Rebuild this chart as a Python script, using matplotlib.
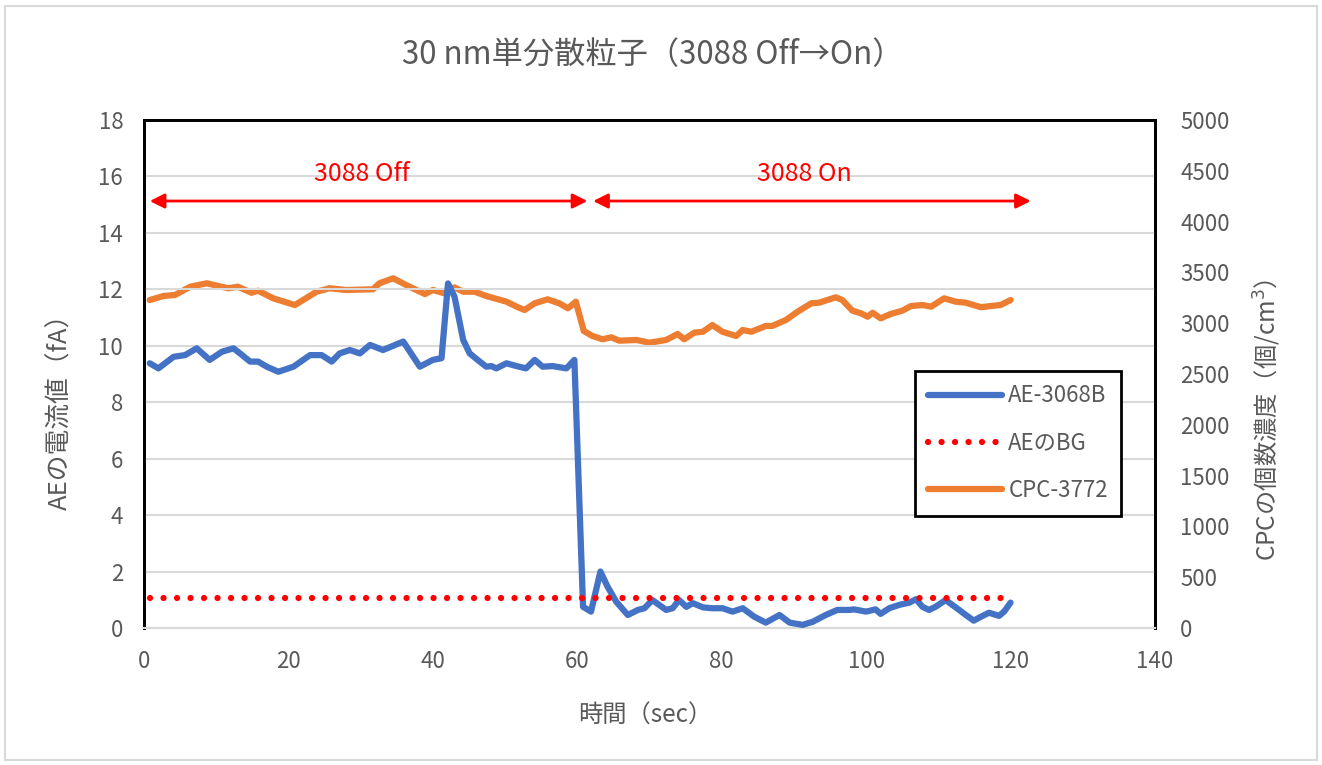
import matplotlib
matplotlib.use("Agg")
import matplotlib.pyplot as plt
from matplotlib.patches import Rectangle

plt.rcParams["font.family"] = ["Noto Sans CJK JP", "DejaVu Sans"]

BLUE = "#4472C4"
ORANGE = "#ED7D31"
RED = "#FF0000"
TEXT = "#595959"
GRID = "#D9D9D9"

# AE-3068B current (fA)
ae_t = [0.8, 2.0, 4.1, 5.7, 7.3, 9.1, 10.8, 12.4, 13.3, 14.7, 15.8, 17.0, 18.6,
        20.7, 23.0, 24.6, 26.0, 27.1, 28.5, 29.9, 31.3, 33.1, 35.9, 38.2, 40.0,
        41.2, 42.1, 43.0, 44.2, 45.1, 46.2, 47.4, 48.1, 48.8, 50.2, 51.6, 52.9,
        54.1, 55.2, 56.6, 58.5, 59.6, 60.8, 61.9, 63.2, 64.2, 65.4, 67.0, 68.4,
        69.3, 70.4, 72.3, 73.2, 74.1, 75.1, 76.0, 77.4, 78.7, 80.1, 81.5, 82.9,
        84.5, 86.1, 88.0, 89.4, 91.2, 92.6, 94.4, 96.0, 97.7, 98.3, 100.0, 101.3,
        102.0, 103.2, 104.6, 106.0, 106.9, 107.8, 108.7, 109.6, 111.0, 112.4,
        113.8, 114.9, 115.9, 117.0, 118.4, 119.1, 120.0]
ae_fa = [9.38, 9.20, 9.61, 9.67, 9.91, 9.50, 9.79, 9.91, 9.73, 9.44, 9.44, 9.26,
         9.08, 9.26, 9.67, 9.67, 9.44, 9.73, 9.85, 9.73, 10.03, 9.85, 10.15, 9.26,
         9.50, 9.56, 12.21, 11.74, 10.21, 9.73, 9.50, 9.26, 9.28, 9.20, 9.38, 9.28,
         9.20, 9.50, 9.26, 9.28, 9.20, 9.50, 0.75, 0.58, 2.00, 1.46, 0.93, 0.46,
         0.64, 0.70, 0.99, 0.64, 0.70, 0.99, 0.75, 0.88, 0.73, 0.70, 0.70, 0.58,
         0.70, 0.40, 0.19, 0.46, 0.19, 0.11, 0.22, 0.46, 0.64, 0.64, 0.66, 0.58,
         0.66, 0.50, 0.70, 0.82, 0.90, 1.02, 0.75, 0.64, 0.75, 0.99, 0.73, 0.46,
         0.26, 0.40, 0.54, 0.43, 0.58, 0.90]

# AE background level (fA)
bg_t = [0.8, 120.0]
bg_fa = [1.05, 1.05]

# CPC-3772 number concentration (1/cm3)
cpc_t = [0.8, 2.7, 4.3, 6.4, 8.7, 10.3, 11.7, 13.0, 14.9, 15.8, 17.9, 20.9, 23.9,
         25.7, 28.0, 31.7, 32.6, 34.5, 36.3, 38.9, 40.0, 41.6, 43.0, 44.2, 45.8,
         47.4, 50.2, 51.6, 52.7, 54.1, 55.9, 57.5, 58.7, 59.8, 60.9, 62.1, 63.5,
         64.7, 65.8, 68.2, 70.0, 72.3, 73.9, 74.8, 76.2, 77.4, 78.7, 80.1, 82.0,
         82.9, 84.1, 86.1, 87.0, 88.9, 90.5, 92.4, 93.5, 95.8, 96.7, 98.1, 99.3,
         100.2, 100.9, 102.0, 103.4, 105.0, 106.2, 107.8, 109.0, 110.8, 112.4,
         113.8, 115.9, 117.2, 118.6, 120.0]
cpc_n = [3228, 3268, 3278, 3359, 3393, 3366, 3344, 3359, 3300, 3320, 3245, 3179,
         3310, 3344, 3327, 3334, 3393, 3442, 3376, 3287, 3327, 3294, 3353, 3310,
         3310, 3268, 3212, 3163, 3130, 3196, 3235, 3196, 3147, 3212, 2923, 2874,
         2842, 2861, 2828, 2835, 2808, 2835, 2894, 2842, 2907, 2916, 2982, 2916,
         2874, 2933, 2916, 2973, 2973, 3032, 3113, 3196, 3202, 3255, 3228, 3123,
         3097, 3064, 3103, 3048, 3091, 3123, 3169, 3179, 3163, 3245, 3212, 3202,
         3157, 3169, 3179, 3228]

fig = plt.figure(figsize=(13.22, 7.65), dpi=100)
ax = fig.add_axes([0.1089, 0.1791, 0.7648, 0.664])
ax2 = ax.twinx()

LW = 4.5
ax.plot(ae_t, ae_fa, color=BLUE, lw=LW, solid_capstyle="round",
        solid_joinstyle="round", label="AE-3068B", zorder=3)
ax.plot(bg_t, bg_fa, color=RED, lw=LW, linestyle=(0, (0.01, 2.15)),
        dash_capstyle="round", label="AEのBG", zorder=3)
ln3, = ax2.plot(cpc_t, cpc_n, color=ORANGE, lw=LW, solid_capstyle="round",
                solid_joinstyle="round", label="CPC-3772")

ax.set_xlim(0, 140)
ax.set_ylim(0, 18)
ax.set_xticks(range(0, 141, 20))
ax.set_yticks(range(0, 19, 2))
ax2.set_ylim(0, 5000)
ax2.set_yticks(range(0, 5001, 500))
ax.set_zorder(ax2.get_zorder() + 1)
ax.patch.set_visible(False)

ax.grid(True, axis="y", color=GRID, lw=1.5)
ax.set_axisbelow(True)
for a in (ax, ax2):
    a.tick_params(length=0, labelsize=16, labelcolor=TEXT)
    for s in a.spines.values():
        s.set_color("black")
        s.set_linewidth(2)
    a.spines["bottom"].set_color(GRID)
    a.spines["bottom"].set_linewidth(1.5)
ax.tick_params(axis="y", pad=15)
ax.tick_params(axis="x", pad=16)
ax2.tick_params(axis="y", pad=18)

# Off / On spans
arrow = dict(arrowstyle="<|-|>", color=RED, lw=2, mutation_scale=22,
             shrinkA=0, shrinkB=0)
ax.annotate("", xy=(0.8, 15.13), xytext=(61.4, 15.13), arrowprops=arrow, zorder=4)
ax.annotate("", xy=(62.2, 15.13), xytext=(122.8, 15.13), arrowprops=arrow, zorder=4)
ax.text(30.2, 16.1, "3088 Off", color=RED, fontsize=18, ha="center", va="center")
ax.text(91.4, 16.1, "3088 On", color=RED, fontsize=18, ha="center", va="center")

h, l = ax.get_legend_handles_labels()
leg = ax.legend(h + [ln3], l + ["CPC-3772"], loc="upper left",
                bbox_to_anchor=(0.7626, 0.506), borderaxespad=0, fontsize=16,
                frameon=True, fancybox=False, edgecolor="black", framealpha=1,
                handlelength=3.3, labelspacing=1.1, borderpad=0.6,
                handletextpad=0.3, labelcolor=TEXT)
leg.get_frame().set_linewidth(2)

fig.text(0.494, 0.928, "30 nm単分散粒子（3088 Off→On）", ha="center", va="center",
         fontsize=22.5, color=TEXT)
fig.text(0.488, 0.064, "時間（sec）", ha="center", va="center",
         fontsize=17.5, color=TEXT)
fig.text(0.046, 0.47, "AEの電流値（fA）", ha="center", va="center",
         rotation=90, fontsize=18.5, color=TEXT)
fig.text(0.959, 0.451, "CPCの個数濃度（個/cm$^3$）", ha="center", va="center",
         rotation=90, fontsize=17.5, color=TEXT)

fig.patches.append(Rectangle((0.004, 0.006), 0.992, 0.986, transform=fig.transFigure,
                             fill=False, edgecolor=GRID, lw=1.5))

fig.savefig("out.png", dpi=100)
